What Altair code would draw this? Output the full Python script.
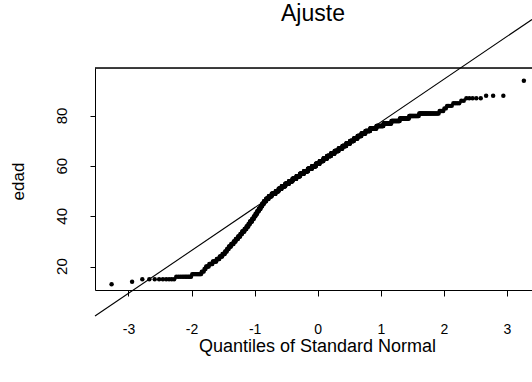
import statistics

import altair as alt
import numpy as np
import pandas as pd

# Ages (edad) observed and how many subjects have each age
ages = [13, 14, 15, 16, 17, 18, 19, 20, 21, 22, 23, 24, 25, 26, 27, 28, 29, 30,
        31, 32, 33, 34, 35, 36, 37, 38, 39, 40, 41, 42, 43, 44, 45, 46, 47, 48,
        49, 50, 51, 52, 53, 54, 55, 56, 57, 58, 59, 60, 61, 62, 63, 64, 65, 66,
        67, 68, 69, 70, 71, 72, 73, 74, 75, 76, 77, 78, 79, 80, 81, 82, 83, 84,
        85, 86, 87, 88, 94]
counts = [1, 1, 9, 10, 9, 3, 2, 4, 5, 6, 5, 5, 5, 4, 4, 5, 6, 5,
          6, 6, 5, 7, 6, 6, 5, 7, 6, 6, 6, 6, 7, 6, 7, 9, 11, 13,
          18, 14, 15, 18, 19, 19, 21, 20, 22, 23, 23, 23, 22, 22, 21, 22, 21, 22,
          21, 20, 20, 19, 18, 18, 18, 20, 25, 25, 25, 23, 21, 18, 25, 4, 2, 4,
          4, 2, 5, 3, 1]

x_ticks = [-3, -2, -1, 0, 1, 2, 3]
y_ticks = [20, 40, 60, 80]
x_domain = [-3.53, 3.396]
y_domain = [10.68, 99.08]

edad = np.repeat(ages, counts)
sample = pd.DataFrame({"edad": edad})

# Reference line through the first and third quartiles (qqline)
q1, q3 = np.quantile(edad, [0.25, 0.75])
z75 = statistics.NormalDist().inv_cdf(0.75)
slope = (q3 - q1) / (2 * z75)
intercept = (q1 + q3) / 2
ref = pd.DataFrame({"q": x_domain})
ref["edad"] = intercept + slope * ref["q"]

FONT = "Liberation Sans"
W, H = 437, 222

x_scale = alt.Scale(domain=x_domain, nice=False, zero=False)
y_scale = alt.Scale(domain=y_domain, nice=False, zero=False)

x_axis = alt.Axis(
    values=x_ticks, labelExpr="'' + datum.value", grid=False,
    tickSize=6, labelPadding=26, labelFontSize=14, labelFont=FONT,
    labelColor="black", tickColor="black", domainColor="black",
    title="Quantiles of Standard Normal", titleFont=FONT, titleFontSize=18,
    titleFontWeight="normal", titleColor="black", titleX=222, titleY=61,
    titleAlign="center", titleBaseline="alphabetic",
)
# y tick labels are drawn as rotated text below; the axis keeps line and ticks
y_axis = alt.Axis(
    values=y_ticks, labels=False, grid=False, tickSize=5,
    tickColor="black", domainColor="black",
    title="edad", titleFont=FONT, titleFontSize=17, titleFontWeight="normal",
    titleColor="black", titleX=-72, titleY=113, titleAngle=-90,
    titleAlign="center", titleBaseline="alphabetic",
)

points = alt.Chart(sample).transform_window(
    rank="row_number()", sort=[alt.SortField("edad")]
).transform_joinaggregate(
    n="count()"
).transform_calculate(
    q="quantileNormal((datum.rank - 0.5) / datum.n)"
).mark_circle(size=20, color="black", opacity=1).encode(
    x=alt.X("q:Q", scale=x_scale, axis=x_axis),
    y=alt.Y("edad:Q", scale=y_scale, axis=y_axis),
)

line = alt.Chart(ref).mark_line(clip=False, color="black", strokeWidth=1.1).encode(
    x=alt.X("q:Q", scale=x_scale),
    y=alt.Y("edad:Q", scale=y_scale),
)

top_edge = alt.Chart(ref).mark_rule(color="black", strokeWidth=1).encode(
    x=alt.value(0), x2=alt.value(W), y=alt.value(0)
)

y_labels = alt.Chart(pd.DataFrame({"edad": y_ticks})).mark_text(
    angle=270, align="center", baseline="middle", font=FONT,
    fontSize=15, color="black",
).encode(
    x=alt.value(-33),
    y=alt.Y("edad:Q", scale=y_scale),
    text=alt.Text("edad:Q", format="d"),
)

title = alt.Chart(pd.DataFrame({"t": ["Ajuste"]})).mark_text(
    align="center", baseline="alphabetic", font=FONT, fontSize=23, color="black",
).encode(
    x=alt.value(218), y=alt.value(-47), text="t:N",
)

chart = alt.layer(points, line, top_edge, y_labels, title).properties(
    width=W,
    height=H,
    padding={"left": 95, "top": 68, "right": 0, "bottom": 92},
    autosize=alt.AutoSizeParams(type="none"),
).configure_view(strokeWidth=0).configure(background="white")

chart.save("out.html", embed_options={"renderer": "svg", "actions": False})
